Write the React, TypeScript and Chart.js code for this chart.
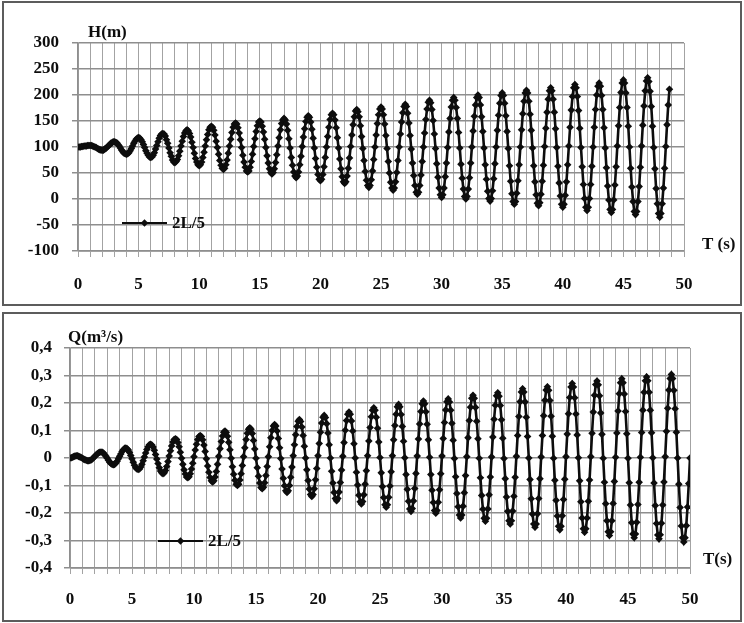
import { useEffect, useRef } from "react";
import { Chart, registerables } from "chart.js";

Chart.register(...registerables);

// Sampling interval of both records (s)
const TIME_STEP = 0.1;
const SERIES_NAME = "2L/5";

// Pressure head H (m), sampled every 0.1 s from t = 0 to t = 48.8 s
const H_VALUES = [
  100,
  100, 100, 101, 101, 102, 102, 102, 103, 103, 103,
  103, 102, 101, 100, 99, 97, 96, 95, 94, 94,
  94, 96, 97, 100, 102, 104, 107, 108, 110, 110,
  109, 108, 105, 102, 98, 94, 91, 88, 87, 86,
  87, 89, 93, 97, 102, 107, 111, 115, 117, 118,
  117, 114, 110, 105, 99, 93, 88, 84, 81, 80,
  81, 84, 89, 96, 103, 110, 117, 122, 125, 126,
  125, 121, 114, 107, 98, 89, 82, 75, 71, 70,
  72, 76, 83, 92, 102, 111, 120, 127, 131, 133,
  131, 126, 119, 109, 99, 88, 78, 71, 66, 64,
  66, 71, 80, 90, 102, 114, 124, 133, 138, 140,
  138, 132, 123, 111, 99, 86, 74, 65, 59, 57,
  59, 66, 75, 88, 102, 115, 128, 138, 144, 146,
  144, 137, 127, 114, 99, 84, 71, 61, 54, 52,
  54, 61, 72, 86, 101, 116, 130, 141, 148, 150,
  148, 140, 129, 115, 99, 83, 69, 58, 51, 48,
  51, 58, 70, 85, 102, 118, 133, 145, 152, 155,
  152, 144, 132, 116, 98, 80, 65, 52, 44, 41,
  44, 52, 66, 82, 101, 119, 135, 149, 157, 160,
  157, 148, 134, 117, 98, 78, 61, 47, 38, 35,
  38, 47, 62, 80, 100, 120, 138, 153, 162, 165,
  162, 152, 137, 118, 98, 77, 58, 43, 33, 30,
  33, 44, 59, 79, 101, 123, 143, 158, 169, 172,
  168, 158, 141, 120, 97, 74, 53, 36, 26, 22,
  26, 37, 54, 76, 100, 123, 145, 162, 173, 177,
  173, 162, 144, 122, 97, 72, 50, 32, 21, 17,
  21, 33, 51, 74, 100, 125, 148, 166, 178, 182,
  178, 165, 146, 122, 96, 69, 45, 26, 13, 9,
  13, 26, 46, 72, 100, 127, 153, 173, 186, 190,
  185, 172, 151, 125, 97, 68, 42, 21, 8, 3,
  8, 21, 43, 69, 99, 129, 155, 177, 190, 195,
  190, 176, 155, 128, 98, 67, 40, 19, 5, 0,
  5, 19, 41, 69, 100, 131, 159, 181, 195, 200,
  195, 181, 158, 130, 98, 66, 38, 15, 1, -4,
  1, 16, 39, 68, 100, 132, 161, 184, 199, 204,
  199, 184, 160, 130, 97, 64, 34, 10, -5, -10,
  -5, 11, 35, 66, 100, 133, 164, 188, 204, 209,
  204, 188, 163, 132, 98, 64, 33, 8, -8, -13,
  -7, 9, 34, 65, 101, 136, 167, 192, 208, 214,
  208, 192, 167, 135, 99, 63, 31, 6, -10, -16,
  -10, 7, 33, 66, 102, 138, 171, 197, 214, 220,
  214, 197, 170, 136, 99, 62, 28, 1, -16, -22,
  -16, 1, 28, 63, 100, 138, 172, 200, 217, 223,
  217, 199, 172, 137, 98, 60, 25, -2, -20, -26,
  -20, -2, 27, 62, 102, 141, 176, 205, 223, 229,
  223, 204, 176, 140, 100, 59, 23, -5, -24, -30,
  -24, -5, 24, 61, 102, 142, 179, 208, 227, 233,
  226, 207, 178, 140, 99, 58, 20, -9, -28, -35,
  -28, -9, 21, 59, 101, 143, 181, 211,
];

// Discharge Q (m3/s), sampled every 0.1 s from t = 0 to t = 50 s
const Q_VALUES = [
  0, 0.001, 0.003, 0.005, 0.007, 0.008,
  0.008, 0.006, 0.004, 0.002, -0.001, -0.004, -0.006, -0.008, -0.010, -0.010,
  -0.009, -0.007, -0.003, 0.001, 0.006, 0.011, 0.015, 0.019, 0.021, 0.022,
  0.021, 0.018, 0.012, 0.006, -0.001, -0.008, -0.015, -0.020, -0.023, -0.024,
  -0.023, -0.018, -0.012, -0.003, 0.006, 0.015, 0.024, 0.030, 0.035, 0.036,
  0.034, 0.029, 0.020, 0.009, -0.003, -0.015, -0.026, -0.035, -0.040, -0.042,
  -0.040, -0.033, -0.023, -0.010, 0.004, 0.018, 0.031, 0.041, 0.048, 0.050,
  0.047, 0.040, 0.028, 0.013, -0.004, -0.020, -0.035, -0.047, -0.054, -0.057,
  -0.054, -0.045, -0.031, -0.013, 0.007, 0.026, 0.044, 0.058, 0.067, 0.070,
  0.067, 0.056, 0.041, 0.021, -0.001, -0.023, -0.043, -0.058, -0.069, -0.072,
  -0.068, -0.057, -0.040, -0.019, 0.005, 0.029, 0.050, 0.067, 0.078, 0.082,
  0.078, 0.066, 0.047, 0.024, -0.003, -0.029, -0.052, -0.071, -0.083, -0.087,
  -0.083, -0.069, -0.049, -0.023, 0.006, 0.034, 0.060, 0.080, 0.094, 0.098,
  0.093, 0.079, 0.057, 0.030, -0.001, -0.032, -0.059, -0.081, -0.095, -0.100,
  -0.095, -0.080, -0.057, -0.027, 0.005, 0.037, 0.067, 0.090, 0.105, 0.110,
  0.105, 0.089, 0.064, 0.033, -0.001, -0.035, -0.066, -0.091, -0.107, -0.112,
  -0.106, -0.090, -0.064, -0.031, 0.005, 0.041, 0.074, 0.100, 0.116, 0.122,
  0.116, 0.098, 0.071, 0.037, -0.002, -0.040, -0.074, -0.101, -0.119, -0.125,
  -0.119, -0.100, -0.070, -0.033, 0.008, 0.048, 0.085, 0.115, 0.134, 0.140,
  0.133, 0.113, 0.082, 0.043, 0.000, -0.043, -0.082, -0.113, -0.133, -0.140,
  -0.133, -0.112, -0.079, -0.038, 0.008, 0.053, 0.094, 0.127, 0.148, 0.155,
  0.147, 0.125, 0.091, 0.048, 0.000, -0.048, -0.091, -0.125, -0.147, -0.155,
  -0.147, -0.124, -0.089, -0.044, 0.006, 0.056, 0.101, 0.136, 0.159, 0.167,
  0.159, 0.135, 0.098, 0.052, 0.000, -0.052, -0.098, -0.135, -0.159, -0.167,
  -0.158, -0.134, -0.095, -0.046, 0.008, 0.062, 0.111, 0.150, 0.174, 0.183,
  0.174, 0.148, 0.108, 0.058, 0.002, -0.054, -0.104, -0.144, -0.170, -0.179,
  -0.170, -0.143, -0.102, -0.050, 0.008, 0.066, 0.118, 0.159, 0.186, 0.195,
  0.186, 0.158, 0.115, 0.061, 0.001, -0.060, -0.114, -0.157, -0.185, -0.194,
  -0.184, -0.156, -0.111, -0.056, 0.007, 0.069, 0.124, 0.169, 0.197, 0.207,
  0.197, 0.168, 0.123, 0.066, 0.003, -0.060, -0.117, -0.162, -0.191, -0.201,
  -0.191, -0.161, -0.115, -0.057, 0.007, 0.071, 0.129, 0.175, 0.205, 0.215,
  0.204, 0.174, 0.126, 0.065, -0.002, -0.068, -0.129, -0.177, -0.207, -0.218,
  -0.207, -0.175, -0.126, -0.064, 0.005, 0.074, 0.136, 0.185, 0.217, 0.228,
  0.217, 0.184, 0.134, 0.070, -0.001, -0.072, -0.136, -0.186, -0.219, -0.230,
  -0.219, -0.185, -0.134, -0.069, 0.004, 0.076, 0.141, 0.192, 0.226, 0.237,
  0.225, 0.191, 0.139, 0.072, -0.002, -0.075, -0.142, -0.194, -0.228, -0.240,
  -0.228, -0.193, -0.139, -0.070, 0.006, 0.082, 0.151, 0.205, 0.240, 0.252,
  0.240, 0.204, 0.148, 0.078, 0.000, -0.078, -0.148, -0.204, -0.240, -0.252,
  -0.240, -0.203, -0.147, -0.075, 0.004, 0.082, 0.154, 0.210, 0.247, 0.259,
  0.246, 0.209, 0.152, 0.079, -0.001, -0.081, -0.154, -0.211, -0.248, -0.261,
  -0.248, -0.210, -0.151, -0.077, 0.005, 0.087, 0.161, 0.220, 0.258, 0.271,
  0.258, 0.219, 0.160, 0.084, 0.001, -0.083, -0.159, -0.218, -0.257, -0.270,
  -0.257, -0.218, -0.157, -0.080, 0.005, 0.090, 0.167, 0.228, 0.267, 0.280,
  0.266, 0.226, 0.164, 0.086, -0.001, -0.088, -0.166, -0.228, -0.268, -0.282,
  -0.268, -0.228, -0.165, -0.085, 0.003, 0.091, 0.171, 0.234, 0.274, 0.288,
  0.274, 0.233, 0.169, 0.088, -0.001, -0.090, -0.171, -0.235, -0.276, -0.290,
  -0.276, -0.234, -0.169, -0.088, 0.003, 0.093, 0.174, 0.239, 0.281, 0.295,
  0.281, 0.239, 0.174, 0.092, 0.001, -0.091, -0.173, -0.238, -0.280, -0.294,
  -0.279, -0.237, -0.171, -0.087, 0.005, 0.097, 0.181, 0.247, 0.289, 0.304,
  0.289, 0.246, 0.179, 0.094, 0.000, -0.095, -0.180, -0.247, -0.290, -0.305,
  -0.290, -0.246, -0.178, -0.093, 0.000,
];

// Axis ranges
const T_RANGE = [0, 50];
const H_RANGE = [-100, 300];
const H_STEP = 50;
const Q_RANGE = [-0.4, 0.4];
const Q_STEP = 0.1;

const INK = "#0d0d0d";
const X_GRID = "#a3a3a3";
const Y_GRID = "#8e8e8e";
const FONT_FAMILY = "'Liberation Serif', 'Times New Roman', Times, serif";
const TEXT_SIZE = 17;

type PanelSpec = {
  values: number[];
  yRange: number[];
  yStep: number;
  yFormat: (v: number) => string;
  yAxisWidth: number;
  xAxisHeight: number;
  padTop: number;
  padRight: number;
  yTickPad: number;
  xTickPad: number;
  yTitle: string;
  yTitleAt: [number, number];
  xTitle: string;
  xTitleAt: [number, number];
  legendAt: [number, number];
};

function buildChart(canvas: HTMLCanvasElement, p: PanelSpec): Chart {
  const font = { family: FONT_FAMILY, size: TEXT_SIZE, weight: "bold" as const };

  // Axis titles and the in-plot legend
  const panelText = {
    id: "panelText",
    afterDraw(chart: Chart) {
      const ctx = chart.ctx;
      ctx.save();
      ctx.fillStyle = INK;
      ctx.strokeStyle = INK;
      ctx.font = `bold ${TEXT_SIZE}px ${FONT_FAMILY}`;
      ctx.textBaseline = "middle";
      ctx.textAlign = "left";
      ctx.fillText(p.yTitle, p.yTitleAt[0], p.yTitleAt[1]);
      ctx.fillText(p.xTitle, p.xTitleAt[0], p.xTitleAt[1]);

      const [lx, ly] = p.legendAt;
      ctx.lineWidth = 2.2;
      ctx.beginPath();
      ctx.moveTo(lx, ly);
      ctx.lineTo(lx + 45, ly);
      ctx.stroke();
      const mx = lx + 22.5;
      const r = 3.8;
      ctx.beginPath();
      ctx.moveTo(mx, ly - r);
      ctx.lineTo(mx + r, ly);
      ctx.lineTo(mx, ly + r);
      ctx.lineTo(mx - r, ly);
      ctx.closePath();
      ctx.fill();
      ctx.fillText(SERIES_NAME, lx + 50, ly + 1);
      ctx.restore();
    },
  };

  return new Chart(canvas, {
    type: "line",
    data: {
      datasets: [
        {
          label: SERIES_NAME,
          data: p.values.map((y, i) => ({ x: Math.round(i * TIME_STEP * 10) / 10, y })),
          borderColor: INK,
          backgroundColor: INK,
          borderWidth: 2.6,
          pointStyle: "rectRot",
          pointRadius: 3.8,
          pointBackgroundColor: INK,
          pointBorderColor: INK,
          pointBorderWidth: 0,
          tension: 0,
          fill: false,
        },
      ],
    },
    options: {
      responsive: false,
      maintainAspectRatio: false,
      animation: false,
      devicePixelRatio: 1,
      events: [],
      layout: { padding: { top: p.padTop, right: p.padRight, left: 0, bottom: 0 } },
      plugins: { legend: { display: false }, tooltip: { enabled: false }, title: { display: false } },
      scales: {
        x: {
          type: "linear",
          min: T_RANGE[0],
          max: T_RANGE[1],
          afterFit: (s: any) => {
            s.height = p.xAxisHeight;
          },
          ticks: {
            stepSize: 1,
            autoSkip: false,
            maxRotation: 0,
            maxTicksLimit: 200,
            padding: p.xTickPad,
            color: INK,
            font,
            callback: (v: any) => (Number(v) % 5 === 0 ? String(v) : ""),
          },
          grid: { color: X_GRID, lineWidth: 1, tickLength: 6, drawTicks: true },
          border: { color: X_GRID, width: 1 },
        },
        y: {
          type: "linear",
          min: p.yRange[0],
          max: p.yRange[1],
          afterFit: (s: any) => {
            s.width = p.yAxisWidth;
          },
          ticks: {
            stepSize: p.yStep,
            padding: p.yTickPad,
            color: INK,
            font,
            callback: (v: any) => p.yFormat(Number(v)),
          },
          grid: { color: Y_GRID, lineWidth: 1.5, tickLength: 6, drawTicks: true },
          border: { color: Y_GRID, width: 1.5 },
        },
      },
    } as any,
    plugins: [panelText],
  });
}

const formatH = (v: number) => String(Math.round(v));
const formatQ = (v: number) => (Math.abs(v) < 1e-9 ? "0" : v.toFixed(1).replace(".", ","));

const boxStyle = (top: number, height: number): React.CSSProperties => ({
  position: "absolute",
  left: 2,
  top,
  width: 736,
  height,
  border: "2px solid #5c5c5c",
  background: "#ffffff",
});

export default function App() {
  const headRef = useRef<HTMLCanvasElement | null>(null);
  const flowRef = useRef<HTMLCanvasElement | null>(null);

  useEffect(() => {
    if (!headRef.current || !flowRef.current) return;
    const head = buildChart(headRef.current, {
      values: H_VALUES,
      yRange: H_RANGE,
      yStep: H_STEP,
      yFormat: formatH,
      yAxisWidth: 74,
      xAxisHeight: 53,
      padTop: 40,
      padRight: 56,
      yTickPad: 13,
      xTickPad: 17,
      yTitle: "H(m)",
      yTitleAt: [84, 30],
      xTitle: "T (s)",
      xTitleAt: [698, 242],
      legendAt: [118, 220],
    });
    const flow = buildChart(flowRef.current, {
      values: Q_VALUES,
      yRange: Q_RANGE,
      yStep: Q_STEP,
      yFormat: formatQ,
      yAxisWidth: 66,
      xAxisHeight: 52,
      padTop: 34,
      padRight: 50,
      yTickPad: 12,
      xTickPad: 15,
      yTitle: "Q(m³/s)",
      yTitleAt: [64, 24],
      xTitle: "T(s)",
      xTitleAt: [699, 246],
      legendAt: [154, 227],
    });
    return () => {
      head.destroy();
      flow.destroy();
    };
  }, []);

  return (
    <div style={{ position: "absolute", left: 0, top: 0, width: 744, height: 623, background: "#ffffff" }}>
      <div style={boxStyle(1, 301)}>
        <canvas ref={headRef} width={736} height={301} style={{ display: "block", width: 736, height: 301 }} />
      </div>
      <div style={boxStyle(312, 306)}>
        <canvas ref={flowRef} width={736} height={306} style={{ display: "block", width: 736, height: 306 }} />
      </div>
    </div>
  );
}
